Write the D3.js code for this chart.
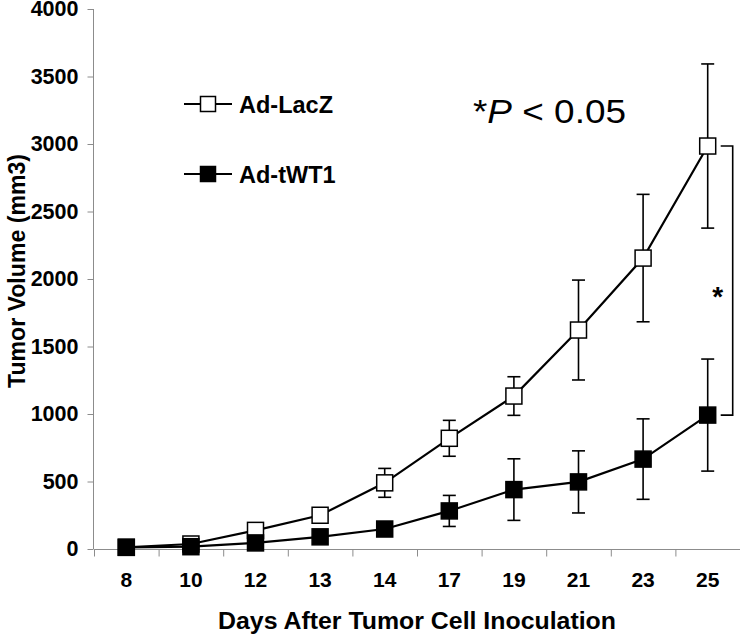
<!DOCTYPE html>
<html>
<head>
<meta charset="utf-8">
<script src="https://cdn.jsdelivr.net/npm/d3@7"></script>
<style>
  html, body { margin: 0; padding: 0; background: #fff; }
  svg { display: block; }
  text { font-family: "Liberation Sans", Arial, sans-serif; }
</style>
</head>
<body>
<script>
// ---- data ----
const days = ["8", "10", "12", "13", "14", "17", "19", "21", "23", "25"];
const laczValues = [13, 37, 138, 250, 490, 820, 1133, 1622, 2155, 2985];
const laczErrors = [5, 10, 20, 25, 107, 133, 143, 370, 472, 608];
const twt1Values = [12, 17, 45, 90, 148, 282, 440, 497, 666, 992];
const twt1Errors = [5, 8, 12, 15, 20, 115, 228, 230, 298, 415];
const yTicks = [0, 500, 1000, 1500, 2000, 2500, 3000, 3500, 4000];
const seriesNames = ["Ad-LacZ", "Ad-tWT1"];

const W = 740, H = 636;
const svg = d3.select("body").append("svg").attr("width", W).attr("height", H);

const x = d3.scaleBand().domain(days).range([94, 740]);
const y = d3.scaleLinear().domain([0, 4000]).range([549, 9]);
const cx = d => x(d) + x.bandwidth() / 2;

const axisColor = "#8c8c8c";
const ff = "Liberation Sans, Arial, sans-serif";

// Y axis
const yAxis = svg.append("g").attr("transform", "translate(93.5,0)")
  .call(d3.axisLeft(y).tickValues(yTicks).tickSize(6).tickPadding(9).tickFormat(d3.format("d")));
yAxis.select(".domain").attr("stroke", axisColor).attr("d", `M0,${y(4000)}V${y(0)}`);
yAxis.selectAll(".tick line").attr("stroke", axisColor);
yAxis.selectAll(".tick text").attr("font-size", 21.5).attr("font-weight", "bold").attr("fill", "#000")
  .attr("font-family", ff);

// X axis: labels centered in bands, ticks at band boundaries
const xAxis = svg.append("g").attr("transform", `translate(0,${y(0) + 0.5})`)
  .call(d3.axisBottom(x).tickSize(0).tickPadding(23));
xAxis.select(".domain").attr("stroke", axisColor).attr("d", `M${x.range()[0]},0H${x.range()[1]}`);
xAxis.selectAll(".tick text").attr("font-size", 21).attr("font-weight", "bold").attr("fill", "#000")
  .attr("font-family", ff);
const bounds = days.map(d => x(d)).concat([x(days[days.length - 1]) + x.bandwidth()]);
xAxis.selectAll(".btick").data(bounds).enter().append("line")
  .attr("x1", d => d + 0.5).attr("x2", d => d + 0.5).attr("y1", 0).attr("y2", 7)
  .attr("stroke", axisColor);

// Axis titles
svg.append("text").attr("x", 417).attr("y", 629).attr("text-anchor", "middle")
  .attr("font-size", 23).attr("font-weight", "bold").attr("textLength", 398).attr("lengthAdjust", "spacingAndGlyphs")
  .text("Days After Tumor Cell Inoculation");
svg.append("text").attr("transform", "translate(25,271) rotate(-90)").attr("text-anchor", "middle")
  .attr("font-size", 23).attr("font-weight", "bold").attr("textLength", 234).attr("lengthAdjust", "spacingAndGlyphs")
  .text("Tumor Volume (mm3)");

// Series
const series = [
  { name: seriesNames[0], values: laczValues, errors: laczErrors, fill: "#fff" },
  { name: seriesNames[1], values: twt1Values, errors: twt1Errors, fill: "#000" }
];
const line = d3.line().x((v, i) => cx(days[i])).y(v => y(v));
const sq = 16, cap = 6.5;

series.forEach(s => {
  const g = svg.append("g");
  // error bars
  s.values.forEach((v, i) => {
    const px = cx(days[i]);
    const top = y(v + s.errors[i]), bot = y(Math.max(0, v - s.errors[i]));
    g.append("line").attr("x1", px).attr("x2", px).attr("y1", top).attr("y2", bot)
      .attr("stroke", "#000").attr("stroke-width", 1.6);
    [top, bot].forEach(yy => g.append("line").attr("x1", px - cap).attr("x2", px + cap)
      .attr("y1", yy).attr("y2", yy).attr("stroke", "#000").attr("stroke-width", 1.6));
  });
  g.append("path").datum(s.values).attr("d", line).attr("fill", "none")
    .attr("stroke", "#000").attr("stroke-width", 2.2);
  g.selectAll("rect").data(s.values).enter().append("rect")
    .attr("x", (v, i) => cx(days[i]) - sq / 2).attr("y", v => y(v) - sq / 2)
    .attr("width", sq).attr("height", sq)
    .attr("fill", s.fill).attr("stroke", "#000").attr("stroke-width", 1.5);
});

// Legend
series.forEach((s, i) => {
  const ly = 104 + i * 70;
  svg.append("line").attr("x1", 184).attr("x2", 232).attr("y1", ly).attr("y2", ly)
    .attr("stroke", "#000").attr("stroke-width", 2);
  svg.append("rect").attr("x", 208 - 7.5).attr("y", ly - 7.5).attr("width", 15).attr("height", 15)
    .attr("fill", s.fill).attr("stroke", "#000").attr("stroke-width", 1.5);
  svg.append("text").attr("x", 239).attr("y", ly + 8.5).attr("font-size", 23.5).attr("font-weight", "bold")
    .text(s.name);
});

// P-value annotation
const pt = svg.append("text").attr("x", 473).attr("y", 123).attr("font-size", 33)
  .attr("textLength", 153).attr("lengthAdjust", "spacingAndGlyphs");
pt.append("tspan").text("*");
pt.append("tspan").attr("font-style", "italic").text("P");
pt.append("tspan").text(" < 0.05");

// Significance bracket on last day
const last = days.length - 1;
const bx = cx(days[last]) + 25;
const yTop = y(laczValues[last]), yBot = y(twt1Values[last]);
svg.append("path")
  .attr("d", `M${bx - 12},${yTop}H${bx}V${yBot}H${bx - 12}`)
  .attr("fill", "none").attr("stroke", "#000").attr("stroke-width", 1.6);
svg.append("text").attr("x", bx - 15).attr("y", (yTop + yBot) / 2 + 25).attr("text-anchor", "middle")
  .attr("font-size", 28).attr("font-weight", "bold").text("*");
</script>
</body>
</html>
